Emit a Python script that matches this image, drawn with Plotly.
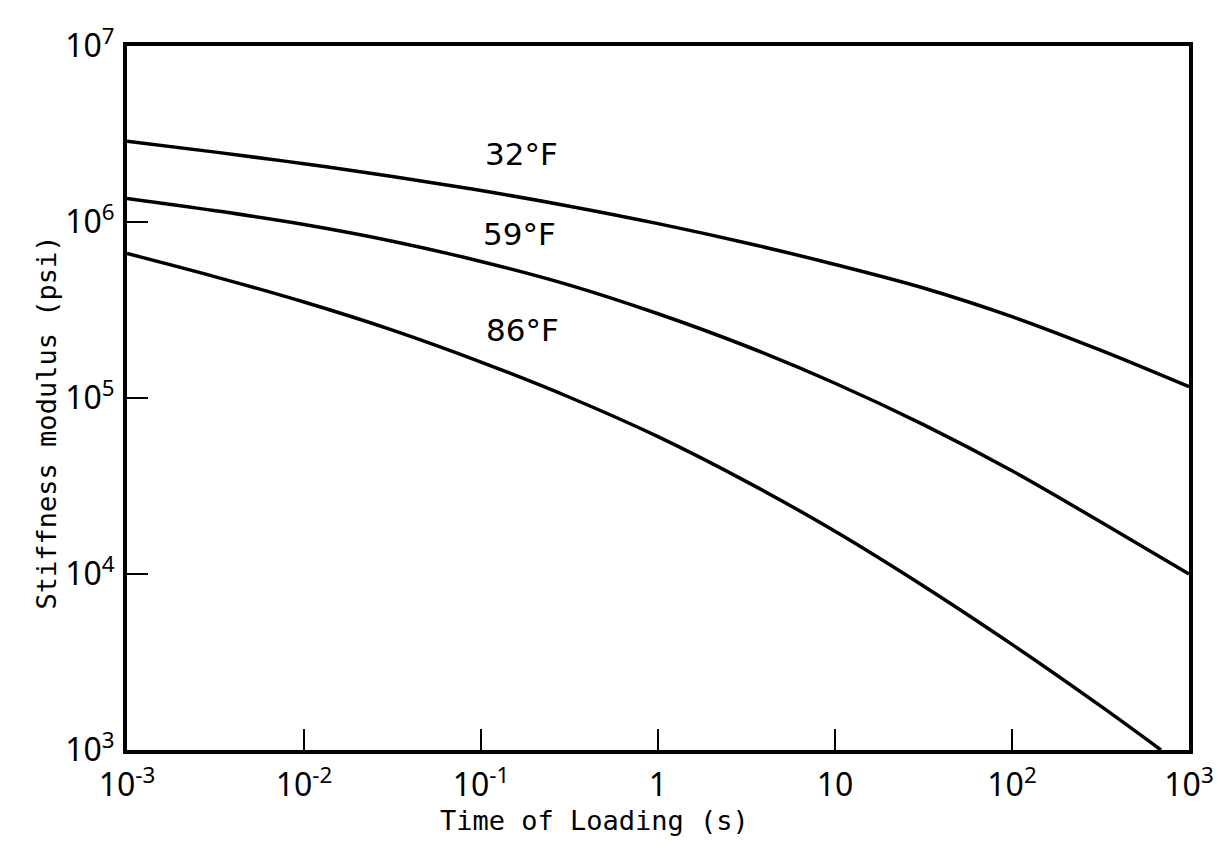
import plotly.graph_objects as go

# Time of loading (s), half-decade readings
time_s = [1e-3, 3.16e-3, 1e-2, 3.16e-2, 1e-1, 3.16e-1, 1, 3.16, 10, 31.6, 100, 316, 1000]
time_86 = [1e-3, 3.16e-3, 1e-2, 3.16e-2, 1e-1, 3.16e-1, 1, 3.16, 10, 31.6, 100, 316, 695]

# Stiffness modulus (psi)
stiff_32F = [2.877e6, 2.495e6, 2.143e6, 1.816e6, 1.510e6, 1.230e6, 9.79e5, 7.60e5, 5.74e5,
             4.22e5, 2.90e5, 1.87e5, 1.159e5]
stiff_59F = [1.361e6, 1.159e6, 9.68e5, 7.78e5, 5.97e5, 4.38e5, 3.01e5, 1.968e5, 1.213e5,
             7.06e4, 3.86e4, 1.98e4, 1.0e4]
stiff_86F = [6.62e5, 4.88e5, 3.51e5, 2.43e5, 1.60e5, 1.01e5, 6.03e4, 3.35e4, 1.75e4,
             8.55e3, 3.98e3, 1.78e3, 1.0e3]

series_names = ["32°F", "59°F", "86°F"]

x_tickvals = [1e-3, 1e-2, 1e-1, 1, 10, 100, 1000]
x_ticktext = ["10<sup>-3</sup>", "10<sup>-2</sup>", "10<sup>-1</sup>", "1", "10",
              "10<sup>2</sup>", "10<sup>3</sup>"]
y_tickvals = [1e3, 1e4, 1e5, 1e6, 1e7]
y_ticktext = ["10<sup>3</sup>", "10<sup>4</sup>", "10<sup>5</sup>", "10<sup>6</sup>",
              "10<sup>7</sup>"]

fig = go.Figure()
for name, xs, ys in [(series_names[0], time_s, stiff_32F),
                     (series_names[1], time_s, stiff_59F),
                     (series_names[2], time_86, stiff_86F)]:
    fig.add_trace(go.Scatter(x=xs, y=ys, mode="lines", name=name,
                             line=dict(color="black", width=3.5, shape="spline", smoothing=1),
                             showlegend=False, cliponaxis=True))

label_pos = [(-0.774, 6.387), (-0.785, 5.933), (-0.763, 5.384)]
for name, (lx, ly) in zip(series_names, label_pos):
    fig.add_annotation(x=lx, y=ly, xref="x", yref="y", text=name, showarrow=False,
                       font=dict(family="DejaVu Sans", size=31, color="black"))

mono = "DejaVu Sans Mono"
fig.add_annotation(x=0.44, y=-0.125, xref="paper", yref="paper",
                   text="Time of Loading (s)", showarrow=False,
                   font=dict(family=mono, size=27, color="black"))
fig.add_annotation(x=-0.092, y=0.465, xref="paper", yref="paper",
                   text="Stiffness modulus (psi)", showarrow=False, textangle=-90,
                   font=dict(family=mono, size=27, color="black"))

axis_common = dict(type="log", showgrid=False, zeroline=False, showline=True,
                   linecolor="black", linewidth=4, mirror=True,
                   ticks="inside", ticklen=21, tickwidth=2, tickcolor="black",
                   tickfont=dict(family="Noto Sans", size=32, color="black"))

fig.update_xaxes(range=[-3, 3], tickvals=x_tickvals, ticktext=x_ticktext,
                 ticklabelstandoff=4, **axis_common)
fig.update_yaxes(range=[3, 7], tickvals=y_tickvals, ticktext=y_ticktext,
                 ticklabelstandoff=2, **axis_common)

fig.update_layout(width=1222, height=848,
                  margin=dict(l=119, r=41, t=28, b=106),
                  plot_bgcolor="white", paper_bgcolor="white")

fig.write_html("out.html")
